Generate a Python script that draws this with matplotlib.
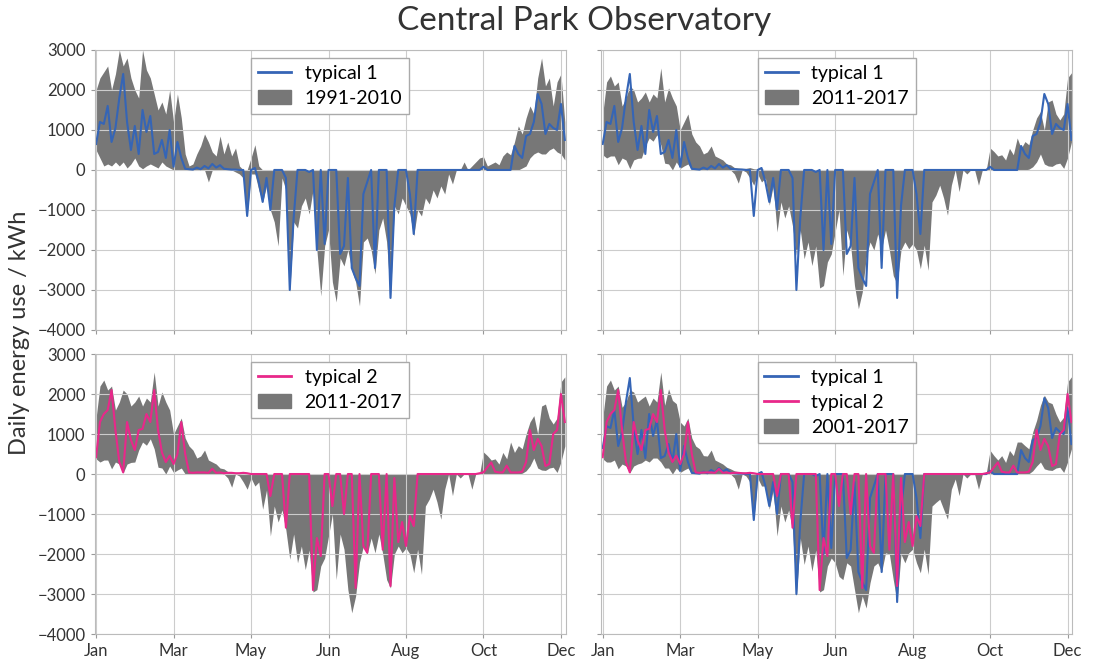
import matplotlib
matplotlib.use("Agg")
import matplotlib.pyplot as plt
import numpy as np
from matplotlib.patches import Patch
from matplotlib.lines import Line2D

plt.rcParams["font.family"] = ["Lato", "DejaVu Sans"]

# day of year, one value every 3 days (0, 3, ..., 363)
days = np.arange(0, 364, 3)

# typical 1 (blue line)
typical1 = [
    650, 1200, 1150, 1600, 700, 1050, 1800, 2400, 1200, 500,
    1100, 400, 1500, 950, 1350, 400, 450, 750, 300, 1000,
    80, 700, 300, 30, 20, 10, 60, 20, 100, 40,
    150, 60, 120, 30, 20, 10, 10, 0, 0, -1150,
    0, 50, -300, -800, -200, -1000, 0, 0, 0, -200,
    -3000, -1200, 0, 0, 0, -50, 0, -2000, 0, -1850,
    0, 0, 0, -2100, -1900, -200, -2450, -2700, -2900, -600,
    -300, 0, -2450, 0, 0, 0, -3200, -900, 0, 0,
    0, -600, -1600, 0, 0, 0, 0, 0, 0, 0,
    0, 0, 0, 0, 0, 0, 0, 0, 0, 0,
    80, 0, 0, 0, 0, 0, 0, 0, 600, 400,
    300, 850, 900, 1200, 1900, 1650, 900, 1150, 1050, 1000,
    1650, 750,
]

# typical 2 (pink line)
typical2 = [
    420, 1300, 1500, 1600, 2100, 1100, 300, 40, 1300, 850,
    600, 1100, 1130, 1500, 1300, 2100, 1100, 540, 300, 460,
    250, 500, 1300, 500, 40, 30, 40, 40, 40, 30,
    130, 30, 40, 20, 30, 30, 20, 20, 30, 20,
    0, 0, 0, 0, 0, -550, 0, 0, 0, -1340,
    0, 0, 0, 0, 0, 0, -2900, -1600, -2050, 0,
    0, -800, 0, 0, -1000, 0, 0, -2850, 0, -1800,
    -1970, 0, 0, 0, -1890, 0, -2800, -100, -1700, -1200,
    -1800, -1050, -1300, 0, 0, 0, 0, 0, 0, 0,
    0, 0, 0, 0, 0, 0, 0, 0, 0, 20,
    40, 170, 290, 60, 40, 40, 210, 40, 40, 40,
    60, 300, 1100, 600, 880, 700, 200, 250, 1000, 1100,
    2000, 1300,
]

# range 1991-2010
b1_hi = [
    2000, 2300, 2450, 2600, 2000, 2400, 3000, 2600, 2800, 2300,
    2000, 1800, 3000, 2500, 2300, 1900, 1500, 1700, 1400, 2000,
    1200, 1900, 1300, 400, 100, 150, 400, 600, 900, 700,
    450, 350, 850, 400, 700, 350, 550, 100, 0, 0,
    300, 630, 100, 0, 0, 0, 0, 0, 0, 0,
    0, 0, 0, 0, 0, 0, 0, 0, 0, 0,
    0, 0, 0, 0, 0, 0, 0, 0, 0, 0,
    0, 0, 0, 0, 0, 0, 0, 0, 0, 0,
    0, 0, 0, 0, 0, 0, 0, 0, 0, 0,
    0, 0, 0, 0, 0, 200, 0, 100, 200, 300,
    330, 100, 150, 200, 130, 350, 450, 380, 700, 1100,
    900, 1300, 1600, 1400, 2300, 2800, 2100, 2300, 1600, 2200,
    2400, 1200,
]
b1_lo = [
    500, 300, 100, 150, 100, 200, 100, 200, 50, 150,
    300, 100, 30, 100, 150, 100, 50, 200, 100, 50,
    0, 0, 0, 0, 0, 0, 0, 0, 0, -300,
    0, 0, 0, 0, 0, 0, -50, -100, -200, -1150,
    -100, -100, -500, -800, -400, -1000, -1300, -1900, -200, -500,
    -3050, -1300, -1450, -900, -700, -1100, -500, -2000, -3150, -1900,
    -1500, -2800, -3300, -2200, -2400, -2000, -2500, -2800, -3400, -1800,
    -1700, -2000, -2600, -1500, -1200, -1800, -3200, -900, -1100, -700,
    -900, -1100, -1650, -1000, -1150, -700, -850, -500, -700, -400,
    -600, -100, -350, 0, 0, 0, 0, 0, 0, 0,
    0, 0, 0, 0, 0, 0, 0, 0, 0, 0,
    50, 100, 300, 400, 450, 400, 400, 500, 550, 450,
    400, 250,
]

# range 2011-2017
b2_hi = [
    1400, 2200, 2350, 2100, 2200, 1600, 1800, 2100, 2000, 1700,
    1800, 1950, 1700, 1900, 1800, 2550, 1700, 2050, 1800, 1600,
    1000, 1200, 1400, 900, 700, 600, 400, 450, 600, 350,
    300, 250, 150, 130, 60, 50, 40, 40, 60, 30,
    20, 30, 0, 0, 0, 0, 0, 0, 0, 0,
    0, 0, 0, 0, 0, 0, 0, 0, 0, 0,
    0, 0, 0, 0, 0, 0, 0, 0, 0, 0,
    0, 0, 0, 0, 0, 0, 0, 0, 0, 0,
    0, 0, 0, 0, 0, 0, 0, 0, 0, 0,
    0, 0, 0, 0, 0, 0, 0, 0, 0, 0,
    550, 460, 350, 380, 250, 540, 380, 800, 540, 710,
    630, 1000, 1300, 1460, 1000, 1700, 1750, 1400, 1250, 1400,
    2300, 2430,
]
b2_lo = [
    380, 300, 350, 350, 130, 300, 250, 30, 250, 290,
    300, 600, 800, 720, 880, 630, 170, 150, 0, 200,
    40, 100, 150, 0, 0, 0, 0, 0, 0, 0,
    0, 0, 0, 0, -100, -330, 0, -50, -200, -380,
    -100, -300, -200, -880, -400, -1550, -800, -1200, -900, -1400,
    -2130, -1500, -2220, -1800, -2390, -1900, -2950, -2890, -2300, -2100,
    -1550, -1000, -2640, -1500, -1880, -2890, -3470, -3050, -2200, -1800,
    -2000, -1600, -1970, -1500, -2000, -2640, -2850, -2000, -1800, -1970,
    -1850, -2000, -2470, -1880, -2510, -800, -630, -380, -700, -1130,
    -380, 0, -540, 0, -100, 0, 0, -380, 0, 0,
    0, 0, 0, 0, 0, 0, 0, 0, 0, 0,
    20, 80, 200, 400, 150, 100, 90, 150, 170, 40,
    300, 700,
]

# range 2001-2017
b3_hi = [
    1400, 2200, 2350, 2100, 2200, 1670, 1800, 2100, 2050, 1800,
    1880, 1950, 1700, 1900, 1800, 2550, 1720, 2130, 1840, 1760,
    1300, 1200, 1400, 900, 700, 630, 460, 450, 600, 350,
    300, 250, 170, 130, 80, 60, 40, 40, 60, 30,
    20, 60, 0, 0, 0, 0, 0, 0, 0, 0,
    0, 0, 0, 0, 0, 0, 0, 0, 0, 0,
    0, 0, 0, 0, 0, 0, 0, 0, 0, 0,
    0, 0, 0, 0, 0, 0, 0, 0, 0, 0,
    0, 0, 0, 0, 0, 0, 0, 0, 0, 0,
    0, 0, 0, 0, 0, 0, 0, 0, 0, 20,
    590, 460, 350, 460, 290, 590, 460, 800, 800, 710,
    630, 1050, 1340, 1720, 1970, 1800, 1760, 1500, 1300, 1420,
    2300, 2430,
]
b3_lo = [
    380, 300, 300, 350, 130, 250, 200, 30, 200, 250,
    280, 350, 300, 400, 400, 300, 150, 150, 0, 150,
    40, 100, 150, 0, 0, 0, 0, 0, 0, 0,
    0, 0, 0, 0, -100, -380, 0, -50, -200, -1150,
    -100, -300, -300, -880, -400, -1550, -800, -1200, -900, -1400,
    -3050, -1600, -2260, -1800, -2430, -1900, -2950, -2890, -2300, -2100,
    -2220, -2560, -2640, -2220, -2300, -2890, -3470, -3050, -3350, -2720,
    -2300, -2220, -2450, -1970, -2000, -2640, -3200, -2000, -2220, -1970,
    -1880, -2220, -2470, -1880, -2510, -800, -710, -630, -880, -1130,
    -380, -125, -540, 0, -100, 0, 0, -380, 0, 0,
    0, 0, 0, 0, 0, 0, 0, 0, 0, 0,
    5, 80, 200, 300, 130, 100, 90, 150, 170, 40,
    300, 630,
]

tick_days = [0, 60, 120, 180, 240, 300, 360]
tick_labels = ["Jan", "Mar", "May", "Jun", "Aug", "Oct", "Dec"]

blue = "#3565b6"
pink = "#e8288a"
grey = "#777777"

fig = plt.figure(figsize=(10.94, 6.61), dpi=100)

lefts = [0.0864, 0.5495]
bottoms = [0.5008, 0.0408]
w, h = 0.4306, 0.4236

panels = [
    (b1_lo, b1_hi, "1991-2010", [(typical1, blue, "typical 1")]),
    (b2_lo, b2_hi, "2011-2017", [(typical1, blue, "typical 1")]),
    (b2_lo, b2_hi, "2011-2017", [(typical2, pink, "typical 2")]),
    (b3_lo, b3_hi, "2001-2017", [(typical1, blue, "typical 1"), (typical2, pink, "typical 2")]),
]

first = None
for k, (lo, hi, rng, lines) in enumerate(panels):
    row, col = divmod(k, 2)
    ax = fig.add_axes([lefts[col], bottoms[row], w, h], sharex=first, sharey=first)
    if first is None:
        first = ax
    ax.fill_between(days, lo, hi, color=grey, lw=0)
    handles = []
    for vals, c, lab in lines:
        ax.plot(days, vals, color=c, lw=1.5)
        handles.append(Line2D([], [], color=c, lw=2, label=lab))
    handles.append(Patch(facecolor=grey, edgecolor=grey, label=rng))
    ax.legend(handles=handles, loc="upper center", fontsize=14, frameon=True,
              fancybox=False, edgecolor="#aaaaaa", framealpha=1,
              borderaxespad=0.4, handlelength=1.7, handletextpad=0.7,
              labelspacing=0.42, borderpad=0.35)

    ax.set_xlim(-1.2, 363.6)
    ax.set_ylim(-4000, 3000)
    ax.set_xticks(tick_days)
    ax.set_xticklabels(tick_labels)
    ax.set_yticks(np.arange(-4000, 3001, 1000))
    ax.grid(True, color="#cccccc", lw=0.8)
    for s in ax.spines.values():
        s.set_color("#bbbbbb")
    ax.tick_params(direction="out", length=3, color="#999999",
                   labelsize=12, labelcolor="#333333")
    if row == 0:
        ax.tick_params(labelbottom=False)
    if col == 1:
        ax.tick_params(labelleft=False)

fig.text(0.5335, 0.968, "Central Park Observatory", fontsize=24, color="#333333",
         ha="center", va="center")
fig.text(0.018, 0.497, "Daily energy use / kWh", rotation=90, fontsize=17,
         color="#333333", ha="center", va="center")

fig.savefig("out.png", dpi=100)
